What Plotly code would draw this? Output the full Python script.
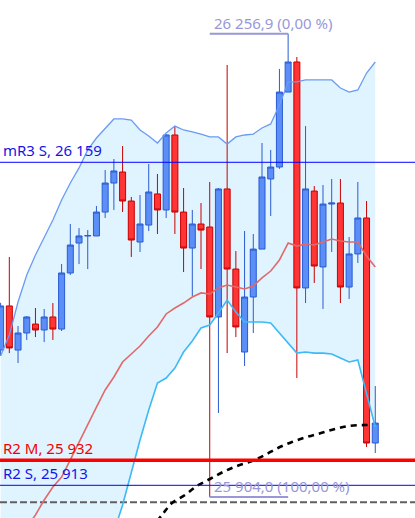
import plotly.graph_objects as go

# ---------------- data ----------------
candle_idx = list(range(44))
opens = [26016.0, 26049.6, 26016.0, 26029.0, 26035.8, 26031.3, 26041.2, 26032.0, 26074.7, 26097.5,
         26102.9, 26102.9, 26121.1, 26143.2, 26151.6, 26129.5, 26098.3, 26111.2, 26134.9, 26122.7,
         26179.8, 26121.1, 26093.7, 26112.0, 26109.7, 26041.2, 26138.7, 26077.7, 26014.5, 26056.4,
         26092.9, 26146.3, 26155.4, 26212.5, 26235.4, 26063.3, 26137.1, 26079.3, 26127.2, 26128.0,
         26064.0, 26089.2, 26116.6, 25945.2]
highs = [26052.0, 26086.9, 26034.3, 26041.9, 26048.0, 26047.3, 26051.8, 26081.5, 26112.0, 26108.9,
         26107.4, 26125.7, 26153.1, 26161.5, 26171.4, 26132.6, 26134.1, 26157.7, 26150.1, 26180.5,
         26186.6, 26139.4, 26122.7, 26128.0, 26144.0, 26139.4, 26233.1, 26091.4, 26106.7, 26104.4,
         26173.7, 26168.4, 26230.1, 26256.9, 26239.2, 26186.6, 26140.9, 26141.7, 26146.3, 26146.3,
         26102.1, 26144.0, 26129.5, 25988.6]
lows = [26011.5, 26013.7, 26006.1, 26023.7, 26025.9, 26022.1, 26023.7, 26030.5, 26073.2, 26081.5,
        26077.7, 26102.9, 26116.6, 26122.7, 26121.1, 26086.9, 26090.7, 26106.7, 26104.4, 26116.6,
        26104.4, 26075.4, 26057.2, 26077.7, 25904.0, 25968.1, 26013.7, 26025.9, 26003.9, 26029.0,
        26092.9, 26118.1, 26154.0, 26212.5, 25994.7, 26051.8, 26067.1, 26047.3, 26090.7, 26051.8,
        26054.9, 26082.3, 25942.2, 25937.6]
closes = [26049.6, 26017.6, 26029.0, 26041.2, 26031.3, 26041.2, 26032.0, 26074.7, 26096.0, 26102.9,
          26103.2, 26121.1, 26143.2, 26152.4, 26129.5, 26099.8, 26112.0, 26136.4, 26122.7, 26179.8,
          26121.1, 26093.7, 26112.0, 26107.4, 26041.2, 26138.7, 26077.7, 26033.6, 26056.4, 26092.9,
          26147.8, 26155.4, 26212.5, 26235.4, 26063.3, 26138.7, 26080.0, 26127.2, 26128.0, 26064.0,
          26089.2, 26116.6, 25945.2, 25960.4]

bb_upper = [26011.5, 26027.5, 26052.6, 26073.2, 26088.4, 26101.3, 26115.0, 26130.3, 26143.2, 26154.7,
            26168.4, 26177.5, 26185.1, 26192.0, 26192.0, 26191.2, 26183.6, 26179.0, 26173.7, 26181.3,
            26186.6, 26183.6, 26182.1, 26180.5, 26178.3, 26178.3, 26172.9, 26178.3, 26179.8, 26180.5,
            26185.1, 26188.2, 26202.6, 26220.2, 26220.2, 26221.7, 26221.7, 26221.7, 26221.7, 26215.6,
            26212.5, 26214.1, 26227.0, 26235.4]
bb_mid = [25850.8, 25859.9, 25870.6, 25881.2, 25890.4, 25901.8, 25911.7, 25919.3, 25932.3, 25946.0,
          25958.9, 25972.6, 25985.6, 25995.5, 26006.9, 26013.0, 26019.1, 26026.7, 26033.6, 26043.5,
          26048.0, 26051.8, 26056.4, 26059.5, 26058.7, 26063.3, 26065.5, 26064.0, 26062.5, 26064.8,
          26070.9, 26076.2, 26084.6, 26097.5, 26095.2, 26096.8, 26096.0, 26098.3, 26100.6, 26099.1,
          26098.3, 26098.3, 26087.6, 26079.3]
bb_lower = [25734.0, 25734.0, 25734.0, 25734.0, 25738.0, 25742.0, 25750.0, 25757.0, 25769.0, 25784.0,
            25803.0, 25826.0, 25852.0, 25877.4, 25898.0, 25923.1, 25947.5, 25970.3, 25990.9, 25994.7,
            26002.3, 26014.5, 26022.9, 26032.8, 26035.1, 26044.2, 26054.1, 26045.0, 26037.4, 26037.4,
            26037.4, 26036.6, 26029.0, 26022.1, 26013.7, 26014.5, 26013.7, 26013.7, 26013.0, 26009.9,
            26006.9, 26008.4, 25981.8, 25957.4]

arc_x = [17.15, 18.52, 19.67, 21.16, 22.54, 24.03, 25.52, 27.13, 28.85, 30.34, 31.83, 33.44,
         35.16, 36.77, 38.37, 39.98, 41.82, 42.4]
arc_y = [25879.0, 25890.4, 25899.5, 25905.6, 25912.5, 25917.8, 25923.1, 25927.7, 25931.5,
         25936.1, 25941.4, 25946.0, 25949.8, 25952.8, 25955.9, 25958.2, 25958.9, 25958.9]

level_names = ["mR3 S", "R2 M", "R2 S"]
level_prices = [26159, 25932, 25913]
level_colors = ["#0000FF", "#FF0000", "#0000FF"]
level_text_colors = ["#1414E6", "#F00000", "#1414E6"]
level_widths = [1, 3.5, 1]
dashed_level = 25900

x_range = [-0.07, 47.56]
y_range = [25888.1, 26282.6]

FONT = "Noto Sans"
FIB_COLOR = "#9898D8"


def fmt(v, decimals=0):
    s = f"{v:,.{decimals}f}"
    return s.replace(",", " ").replace(".", ",")


hi = max(highs)
lo = min(lows)
i_hi = highs.index(hi)
i_lo = lows.index(lo)

fig = go.Figure()

# band fill as a below-layer shape (so that candles are drawn over it)
pts = [(x, y) for x, y in zip(candle_idx, bb_upper)] + \
      [(x, y) for x, y in zip(reversed(candle_idx), reversed(bb_lower))]
band_path = "M " + " L ".join(f"{x},{y}" for x, y in pts) + " Z"
fig.add_shape(type="path", path=band_path, xref="x", yref="y",
              fillcolor="#E0F4FF", line=dict(width=0), layer="below")

# dashed level (data-referenced so it sits above the band fill)
fig.add_shape(type="line", xref="x", x0=x_range[0], x1=x_range[1], yref="y",
              y0=dashed_level, y1=dashed_level,
              line=dict(color="#606060", width=2, dash="7px,3px"), layer="below")

# candles
fig.add_trace(go.Candlestick(
    x=candle_idx, open=opens, high=highs, low=lows, close=closes,
    increasing=dict(line=dict(color="#2A5BD2", width=1), fillcolor="#5B8EF6"),
    decreasing=dict(line=dict(color="#C80000", width=1), fillcolor="#FF3535"),
    whiskerwidth=0,
))

# band lines
fig.add_trace(go.Scatter(x=candle_idx, y=bb_upper, mode="lines",
                         line=dict(color="#6A9BF4", width=1.3)))
fig.add_trace(go.Scatter(x=candle_idx, y=bb_mid, mode="lines",
                         line=dict(color="#E06A6A", width=1.6)))
fig.add_trace(go.Scatter(x=candle_idx, y=bb_lower, mode="lines",
                         line=dict(color="#3DB9F5", width=1.6)))

# arc
fig.add_trace(go.Scatter(x=arc_x, y=arc_y, mode="lines", line_shape="spline",
                         line=dict(color="#000000", width=2.6, dash="6px,5px")))

# fib underlines
fig.add_trace(go.Scatter(x=[i_lo, i_hi], y=[hi, hi], mode="lines",
                         line=dict(color=FIB_COLOR, width=2)))
fig.add_trace(go.Scatter(x=[i_lo, i_hi], y=[lo, lo], mode="lines",
                         line=dict(color=FIB_COLOR, width=2)))

# horizontal levels
for name, p, c, w, tc in zip(level_names, level_prices, level_colors, level_widths, level_text_colors):
    fig.add_shape(type="line", xref="x", x0=x_range[0], x1=x_range[1], yref="y", y0=p, y1=p,
                  line=dict(color=c, width=w))
    fig.add_annotation(x=0, xref="paper", xanchor="left", xshift=1,
                       y=p, yref="y", yanchor="bottom", yshift=0,
                       text=f"{name}, {fmt(p)}", showarrow=False,
                       font=dict(family=FONT, size=15, color=tc))

for p in (hi, lo):
    pct = (hi - p) / (hi - lo) * 100
    fig.add_annotation(x=i_lo, xref="x", xanchor="left", xshift=2,
                       y=p, yref="y", yanchor="bottom", yshift=-1,
                       text=f"{fmt(p, 1)} ({fmt(pct, 2)} %)", showarrow=False,
                       font=dict(family=FONT, size=15, color=FIB_COLOR))

fig.update_layout(
    width=415, height=518, margin=dict(l=0, r=0, t=0, b=0),
    paper_bgcolor="white", plot_bgcolor="white",
    showlegend=False, boxgap=0.31, boxgroupgap=0, hovermode=False,
    xaxis=dict(range=x_range, visible=False, rangeslider=dict(visible=False), fixedrange=True),
    yaxis=dict(range=y_range, visible=False, fixedrange=True),
)

fig.write_html("out.html", config={"displayModeBar": False, "staticPlot": True},
               post_script="document.body.style.margin='0px';document.body.style.padding='0px';")
